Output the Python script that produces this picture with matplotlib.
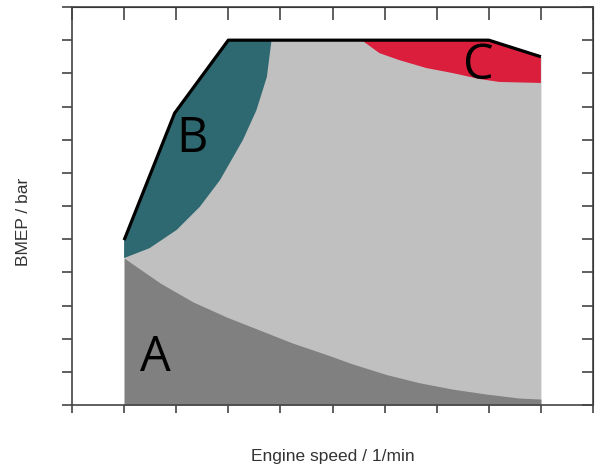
import numpy as np
import matplotlib
matplotlib.use("Agg")
import matplotlib.pyplot as plt

# Data (x in tick units of engine speed, y in tick units of BMEP)
full_load_x = [1.0, 1.97, 3.0, 8.0, 9.0]
full_load_y = [4.97, 8.8, 11.0, 11.0, 10.5]

a_x = [1.0, 1.69, 2.32, 2.97, 3.60, 4.23, 4.94, 5.38, 6.03, 6.67, 7.30, 7.95, 8.58, 9.0]
a_y = [4.43, 3.68, 3.11, 2.65, 2.26, 1.87, 1.49, 1.24, 0.92, 0.67, 0.48, 0.33, 0.21, 0.18]

b_x = [1.0, 1.49, 2.01, 2.45, 2.84, 3.28, 3.54, 3.74, 3.83]
b_y = [4.43, 4.73, 5.28, 5.97, 6.78, 7.99, 8.89, 9.89, 11.0]

c_x = [5.56, 5.90, 6.28, 6.80, 7.30, 7.82, 8.20, 9.0]
c_y = [11.0, 10.61, 10.40, 10.16, 10.01, 9.83, 9.74, 9.71]

labels = ["A", "B", "C"]
label_pos = [(1.6, 1.4), (2.3, 8.0), (7.8, 10.2)]

x_label = "Engine speed / 1/min"
y_label = "BMEP / bar"

fig = plt.figure(figsize=(5.95, 4.70), dpi=100)
ax = fig.add_axes([72/595, 1-405/470, (593-72)/595, (405-7)/470])

col_light = "#c0c0c0"
col_dark = "#808080"
col_teal = "#2e6870"
col_red = "#db1e3c"

ax.fill_between(full_load_x, 0, full_load_y, color=col_light, lw=0, zorder=1)
ax.fill_between(a_x, 0, a_y, color=col_dark, lw=0, zorder=2)
fl_b_x = [x for x in full_load_x if x <= b_x[-1]] + [b_x[-1]]
fl_b_y = list(np.interp(fl_b_x, full_load_x, full_load_y))
ax.fill(fl_b_x + b_x[::-1], fl_b_y + b_y[::-1], color=col_teal, lw=0, zorder=3)
fl_c_x = [c_x[0]] + [x for x in full_load_x if x > c_x[0]]
fl_c_y = list(np.interp(fl_c_x, full_load_x, full_load_y))
ax.fill(c_x + fl_c_x[::-1], c_y + fl_c_y[::-1], color=col_red, lw=0, zorder=3)

ax.plot(full_load_x, full_load_y, color="black", lw=2.3, zorder=4, solid_capstyle="butt")

for lab, (lx, ly) in zip(labels, label_pos):
    ax.text(lx, ly, lab, fontsize=35, fontweight="normal", family=["Open Sans", "DejaVu Sans"],
            ha="center", va="center", color="black", zorder=5)

ax.set_xlim(0, 10)
ax.set_ylim(0, 12)
ax.set_xticks(np.arange(0, 11))
ax.set_yticks(np.arange(0, 13))
ax.set_xticklabels([])
ax.set_yticklabels([])
spine_col = "#444444"
for s in ax.spines.values():
    s.set_color(spine_col)
    s.set_linewidth(1.2)
ax.tick_params(axis="x", which="both", bottom=True, top=False, direction="out", length=6,
               width=1.2, color=spine_col)
ax.tick_params(axis="y", which="both", left=True, right=False, direction="out", length=7,
               width=1.2, color=spine_col)
axt = ax.secondary_xaxis("top")
axt.set_xticks(np.arange(0, 11))
axt.set_xticklabels([])
axt.tick_params(direction="in", length=9, width=1.2, color=spine_col)
axr = ax.secondary_yaxis("right")
axr.set_yticks(np.arange(0, 13))
axr.set_yticklabels([])
axr.tick_params(direction="in", length=8, width=1.2, color=spine_col)

fig.text(333/595, 1-457/470, x_label, ha="center", va="center", fontsize=12.5,
         family="Liberation Sans", color="#333333")
fig.text(24/595, 1-222/470, y_label, ha="center", va="center", fontsize=12.5,
         family="Liberation Sans", color="#333333", rotation=90)

fig.savefig("out.png", dpi=100)
